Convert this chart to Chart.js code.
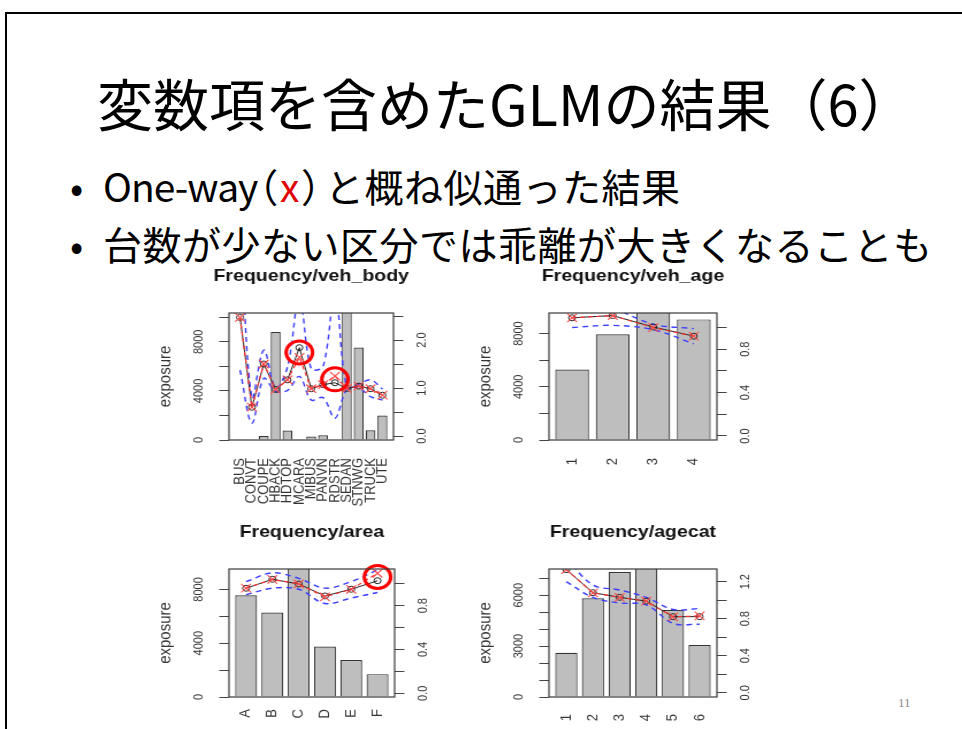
<!DOCTYPE html>
<html lang="ja">
<head>
<meta charset="utf-8">
<title>変数項を含めたGLMの結果（6）</title>
<script src="https://cdn.jsdelivr.net/npm/chart.js@4.4.1/dist/chart.umd.min.js"></script>
<style>
  html, body { margin: 0; padding: 0; background: #fff; }
  body { width: 962px; height: 729px; overflow: hidden; position: relative;
         font-family: "Noto Sans CJK JP", sans-serif; color: #000; }
  .rule-top  { position: absolute; left: 5px; top: 12px; width: 957px; height: 2px; background: #000; }
  .rule-left { position: absolute; left: 5px; top: 12px; width: 2px; height: 717px; background: #000; }
  h1 { position: absolute; left: 97px; top: 74px; margin: 0;
       font-size: 56px; font-weight: 400; line-height: 1; white-space: nowrap; }
  .bullet { position: absolute; left: 70px; margin: 0; font-size: 39px; line-height: 1;
            white-space: nowrap; letter-spacing: 0.5px; }
  .bullet::before { content: "•"; display: inline-block; width: 33px; }
  .b1 { top: 166px; }
  .b2 { top: 224px; }
  .latin { letter-spacing: -1px; }
  .paren { font-feature-settings: "palt" 1; letter-spacing: 3px; }
  .mark { color: #e00000; letter-spacing: 3px; }
  .page { position: absolute; left: 898px; top: 695px; font-family: "Liberation Serif", serif;
          font-size: 13px; color: #8a8a8a; }
  canvas { position: absolute; transform-origin: 0 0; }
</style>
</head>
<body>
<div class="rule-top"></div>
<div class="rule-left"></div>
<h1>変数項を含めたGLMの結果（6）</h1>
<p class="bullet b1"><span class="latin">One-way</span><span class="paren">（</span><span class="mark">x</span><span class="paren">）</span>と概ね似通った結果</p>
<p class="bullet b2">台数が少ない区分では乖離が大きくなることも</p>
<div class="page">11</div>

<canvas id="pBody"></canvas>
<canvas id="pAge"></canvas>
<canvas id="pArea"></canvas>
<canvas id="pAgecat"></canvas>

<script>
// ---- veh_body ----
const bodyCats     = ['BUS','CONVT','COUPE','HBACK','HDTOP','MCARA','MIBUS','PANVN','RDSTR','SEDAN','STNWG','TRUCK','UTE'];
const bodyExposure = [22, 38, 330, 8800, 780, 60, 280, 390, 13, 10450, 7530, 800, 2000];
const bodyGlm      = [2.47, 0.60, 1.50, 0.97, 1.17, 1.84, 0.985, 1.07, 1.11, 0.99, 1.04, 0.985, 0.85];
const bodyOneWay   = [2.47, 0.60, 1.50, 0.97, 1.17, 1.64, 0.985, 1.07, 1.25, 0.99, 1.04, 0.985, 0.85];
const bodyUpper    = [4.50, 0.80, 1.79, 1.00, 1.44, 2.90, 1.40, 1.45, 3.00, 1.01, 1.08, 1.17, 0.98];
const bodyLower    = [1.375, 0.27, 1.20, 0.93, 0.95, 1.24, 0.75, 0.80, 0.37, 0.97, 1.00, 0.82, 0.75];
const bodyFlagged  = ['MCARA', 'RDSTR'];
const bodyLeftTicks  = [0, 4000, 8000];
const bodyRightTicks = [0, 1, 2];

// ---- veh_age ----
const ageCats     = ['1','2','3','4'];
const ageExposure = [5300, 7950, 9700, 9070];
const ageGlm      = [1.09, 1.11, 1.005, 0.92];
const ageOneWay   = [1.09, 1.11, 1.00, 0.92];
const ageUpper    = [1.20, 1.17, 1.03, 0.99];
const ageLower    = [1.00, 1.02, 0.98, 0.85];
const ageFlagged  = [];
const ageLeftTicks  = [0, 4000, 8000];
const ageRightTicks = [0, 0.4, 0.8];

// ---- area ----
const areaCats     = ['A','B','C','D','E','F'];
const areaExposure = [7560, 6280, 9600, 3750, 2750, 1700];
const areaGlm      = [0.959, 1.041, 0.998, 0.889, 0.95, 1.028];
const areaOneWay   = [0.96, 1.04, 1.00, 0.88, 0.95, 1.096];
const areaUpper    = [1.02, 1.10, 1.05, 0.96, 1.02, 1.126];
const areaLower    = [0.90, 0.96, 0.95, 0.82, 0.87, 0.92];
const areaFlagged  = ['F'];
const areaLeftTicks  = [0, 4000, 8000];
const areaRightTicks = [0, 0.4, 0.8];

// ---- agecat ----
const agecatCats     = ['1','2','3','4','5','6'];
const agecatExposure = [2600, 5820, 7360, 7600, 5130, 3060];
const agecatGlm      = [1.33, 1.081, 1.031, 0.99, 0.822, 0.822];
const agecatOneWay   = [1.33, 1.08, 1.03, 0.99, 0.82, 0.83];
const agecatUpper    = [1.45, 1.164, 1.11, 1.03, 0.90, 0.91];
const agecatLower    = [1.20, 1.03, 0.97, 0.95, 0.75, 0.74];
const agecatFlagged  = [];
const agecatLeftTicks  = [0, 3000, 6000];
const agecatRightTicks = [0, 0.4, 0.8, 1.2];

Chart.defaults.font.family = "'Liberation Sans', Arial, sans-serif";
Chart.defaults.animation = false;

// each plot is drawn a little narrow and stretched sideways, like the pasted figure
const SX = 1.15;
// fixed margins around each plot region (canvas px)
const M = { left: 80, right: 80, top: 60, bottom: 75 };

// R-style box around the plot region
const plotBox = {
  id: 'plotBox',
  afterDatasetsDraw(chart) {
    const { ctx, chartArea: a } = chart;
    ctx.save();
    ctx.strokeStyle = '#3a3a3a';
    ctx.lineWidth = 1.2;
    ctx.strokeRect(a.left, a.top, a.right - a.left, a.bottom - a.top);
    ctx.restore();
  }
};

const near = (list, v) => list.some(t => Math.abs(t - v) < 1e-6);

// tick marks every `step` from 0 up to the top of the axis
const stepTicks = (step, top) => {
  const out = [];
  for (let k = 0; k * step <= top + 1e-9; k++) out.push({ value: +(k * step).toFixed(6) });
  return out;
};

function panel(id, spec) {
  const n = spec.cats.length;
  // barplot layout: bars 1 wide with 0.2 gaps, axis extended by 4 %
  const pad = (0.5 + 0.04 * (1.2 * n - 0.2)) / 1.2;
  const pts = arr => arr.map((v, i) => ({ x: i + 1, y: v }));
  const flagged = spec.flagged.map(c => {
    const i = spec.cats.indexOf(c);
    return { x: i + 1, y: (spec.glm[i] + spec.oneway[i]) / 2 };
  });

  const cv = document.getElementById(id);
  cv.width = Math.round(M.left + spec.w / SX + M.right);
  cv.height = M.top + spec.h + M.bottom;
  cv.style.left = (spec.left - M.left * SX) + 'px';
  cv.style.top = (spec.top - M.top) + 'px';
  cv.style.transform = `scaleX(${SX})`;

  const tickFont = { size: 11 };
  const blue = {
    type: 'line', yAxisID: 'y2', borderColor: '#3c3cff', borderWidth: 1.4,
    borderDash: [5, 4], pointRadius: 0, tension: 0.35, fill: false, clip: 0, order: 4
  };

  return new Chart(cv, {
    type: 'bar',
    data: {
      datasets: [
        { type: 'line', data: flagged, yAxisID: 'y2', showLine: false, pointStyle: 'circle',
          pointRadius: 11.5, pointBorderWidth: 3, pointBorderColor: '#ff0000',
          pointBackgroundColor: 'rgba(0,0,0,0)', clip: false, order: 0 },
        { type: 'line', data: pts(spec.oneway), yAxisID: 'y2', borderColor: '#ff3030',
          borderWidth: 1.2, borderDash: [4, 3], pointStyle: 'crossRot', pointRadius: 6,
          pointBorderColor: '#ff4a4a', pointBorderWidth: 1.1, clip: 0, order: 1 },
        { type: 'line', data: pts(spec.glm), yAxisID: 'y2', borderColor: '#222',
          borderWidth: 1, pointStyle: 'circle', pointRadius: 3, pointBorderColor: '#222',
          pointBorderWidth: 1, pointBackgroundColor: 'rgba(0,0,0,0)', clip: 0, order: 2 },
        Object.assign({ data: pts(spec.upper) }, blue),
        Object.assign({ data: pts(spec.lower) }, blue),
        { type: 'bar', data: pts(spec.exposure), yAxisID: 'y', backgroundColor: '#bebebe',
          borderColor: '#333', borderWidth: 1.2, barPercentage: 1 / 1.2,
          categoryPercentage: 1, clip: 0, order: 10 }
      ]
    },
    options: {
      responsive: false,
      devicePixelRatio: 1,
      layout: { padding: 0 },
      plugins: {
        legend: { display: false },
        tooltip: { enabled: false },
        title: {
          display: true, text: spec.title, color: '#111',
          font: { size: 17, weight: 'bold' }, padding: { top: 13, bottom: 60 - 13 - 17 * 1.2 }
        }
      },
      scales: {
        x: {
          type: 'linear', min: 1 - pad, max: n + pad, offset: false,
          grid: { display: false, drawTicks: false }, border: { display: false },
          ticks: {
            stepSize: 1, includeBounds: false, autoSkip: false, minRotation: 90, maxRotation: 90,
            padding: spec.labelGap, color: '#333', font: { size: 13 },
            callback: v => (Number.isInteger(v) && v >= 1 && v <= n) ? spec.cats[v - 1] : ''
          },
          afterFit: s => { s.height = M.bottom; }
        },
        y: {
          position: 'left', min: 0, max: spec.leftMax,
          grid: { drawOnChartArea: false, drawTicks: true, tickLength: 8.5, color: '#444' },
          border: { display: false },
          ticks: {
            autoSkip: false, minRotation: 90, maxRotation: 90,
            crossAlign: 'center', padding: 5, color: '#333', font: tickFont,
            callback: v => near(spec.leftTicks, v) ? String(v) : ''
          },
          afterBuildTicks: s => { s.ticks = stepTicks(spec.leftStep, spec.leftMax); },
          title: { display: true, text: 'exposure', color: '#333', font: { size: 15 }, padding: { top: 15.5 } },
          afterFit: s => { s.width = M.left; }
        },
        y2: {
          position: 'right', min: spec.rightMin, max: spec.rightMax,
          grid: { drawOnChartArea: false, drawTicks: true, tickLength: 8.5, color: '#444' },
          border: { display: false },
          ticks: {
            autoSkip: false, minRotation: 90, maxRotation: 90,
            crossAlign: 'center', padding: 9, color: '#333', font: tickFont,
            callback: v => near(spec.rightTicks, v) ? v.toFixed(1) : ''
          },
          afterBuildTicks: s => { s.ticks = stepTicks(spec.rightStep, spec.rightMax); },
          afterFit: s => { s.width = M.right; }
        }
      }
    },
    plugins: [plotBox]
  });
}

panel('pBody', {
  title: 'Frequency/veh_body', cats: bodyCats, exposure: bodyExposure,
  glm: bodyGlm, oneway: bodyOneWay, upper: bodyUpper, lower: bodyLower, flagged: bodyFlagged,
  leftTicks: bodyLeftTicks, rightTicks: bodyRightTicks,
  leftMax: 10350, leftStep: 2000, rightMin: -0.083, rightMax: 2.5625, rightStep: 0.5,
  left: 229, top: 313, w: 164, h: 127, labelGap: 18
});
panel('pAge', {
  title: 'Frequency/veh_age', cats: ageCats, exposure: ageExposure,
  glm: ageGlm, oneway: ageOneWay, upper: ageUpper, lower: ageLower, flagged: ageFlagged,
  leftTicks: ageLeftTicks, rightTicks: ageRightTicks,
  leftMax: 9550, leftStep: 2000, rightMin: -0.037, rightMax: 1.134, rightStep: 0.2,
  left: 549, top: 313, w: 168, h: 127, labelGap: 18
});
panel('pArea', {
  title: 'Frequency/area', cats: areaCats, exposure: areaExposure,
  glm: areaGlm, oneway: areaOneWay, upper: areaUpper, lower: areaLower, flagged: areaFlagged,
  leftTicks: areaLeftTicks, rightTicks: areaRightTicks,
  leftMax: 9520, leftStep: 2000, rightMin: -0.034, rightMax: 1.135, rightStep: 0.2,
  left: 229, top: 569, w: 166, h: 128, labelGap: 12
});
panel('pAgecat', {
  title: 'Frequency/agecat', cats: agecatCats, exposure: agecatExposure,
  glm: agecatGlm, oneway: agecatOneWay, upper: agecatUpper, lower: agecatLower, flagged: agecatFlagged,
  leftTicks: agecatLeftTicks, rightTicks: agecatRightTicks,
  leftMax: 7540, leftStep: 1000, rightMin: -0.046, rightMax: 1.337, rightStep: 0.2,
  left: 549, top: 569, w: 168, h: 128, labelGap: 17
});
</script>
</body>
</html>
